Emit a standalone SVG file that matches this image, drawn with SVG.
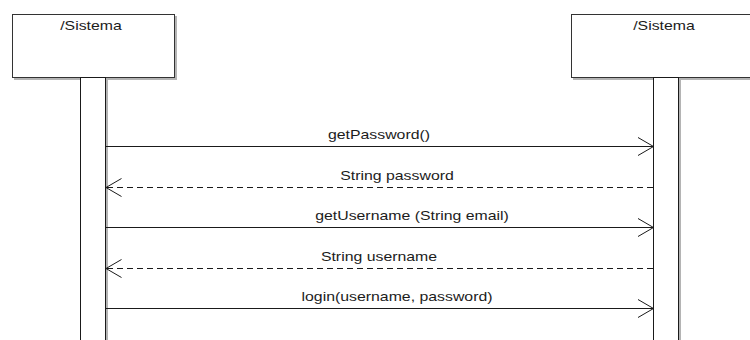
<svg xmlns="http://www.w3.org/2000/svg" width="750" height="340" viewBox="0 0 750 340">
  <defs>
    <style>
      .box { fill: #ffffff; stroke: #333333; stroke-width: 1; }
      .shadow { fill: #b4b4b4; }
      .bar { fill: #ffffff; stroke: #1a1a1a; stroke-width: 1; }
      .msg { stroke: #1a1a1a; stroke-width: 1; fill: none; }
      .ret { stroke: #1a1a1a; stroke-width: 1; fill: none; stroke-dasharray: 6 4; }
      .head { stroke: #1a1a1a; stroke-width: 1; fill: none; }
      .lbl { font-family: "Liberation Sans", Arial, sans-serif; font-size: 12px; fill: #1c1c1c; text-anchor: middle; }
    </style>
  </defs>
  <rect width="750" height="340" fill="#ffffff"/>

  <!-- left lifeline -->
  <g id="sistema-left">
    <rect class="shadow" x="14" y="16" width="163" height="64"/>
    <rect class="box" x="12.5" y="14.5" width="162" height="63"/>
    <text class="lbl" transform="translate(91,30) scale(1.32,1)">/Sistema</text>
    <rect class="shadow" x="82" y="78" width="26" height="270"/>
    <rect class="bar" x="80.5" y="77.5" width="25" height="270"/>
  </g>

  <!-- right lifeline -->
  <g id="sistema-right">
    <rect class="shadow" x="573" y="16" width="190" height="64"/>
    <rect class="box" x="571.5" y="14.5" width="190" height="63"/>
    <text class="lbl" transform="translate(664,30) scale(1.32,1)">/Sistema</text>
    <rect class="shadow" x="655" y="78" width="26" height="270"/>
    <rect class="bar" x="653.5" y="77.5" width="25" height="270"/>
  </g>

  <!-- messages -->
  <g id="connectors">
    <line class="msg" x1="106" y1="146.5" x2="653.5" y2="146.5"/>
    <polyline class="head" points="638,137.5 653.5,146.5 638,155.5"/>
    <text class="lbl" transform="translate(379,139) scale(1.32,1)">getPassword()</text>

    <line class="ret" x1="653" y1="187.5" x2="106" y2="187.5"/>
    <polyline class="head" points="121.5,178.5 106,187.5 121.5,196.5"/>
    <text class="lbl" transform="translate(397,180) scale(1.32,1)">String password</text>

    <line class="msg" x1="106" y1="227.5" x2="653.5" y2="227.5"/>
    <polyline class="head" points="638,218.5 653.5,227.5 638,236.5"/>
    <text class="lbl" transform="translate(412,220) scale(1.32,1)">getUsername (String email)</text>

    <line class="ret" x1="653" y1="268.5" x2="106" y2="268.5"/>
    <polyline class="head" points="121.5,259.5 106,268.5 121.5,277.5"/>
    <text class="lbl" transform="translate(379,261) scale(1.32,1)">String username</text>

    <line class="msg" x1="106" y1="308.5" x2="653.5" y2="308.5"/>
    <polyline class="head" points="638,299.5 653.5,308.5 638,317.5"/>
    <text class="lbl" transform="translate(397,301) scale(1.32,1)">login(username, password)</text>
  </g>
</svg>
